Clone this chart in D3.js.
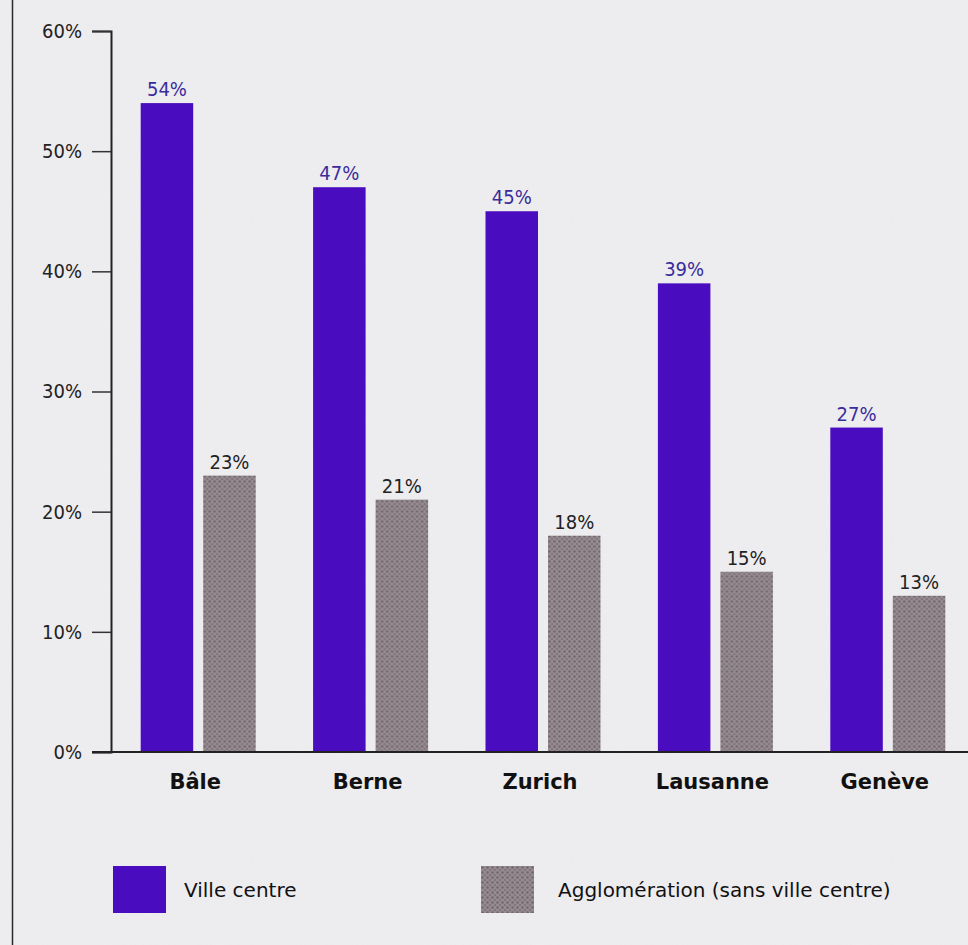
<!DOCTYPE html>
<html>
<head>
<meta charset="utf-8">
<script src="https://cdn.jsdelivr.net/npm/d3@7"></script>
<style>
  html, body { margin: 0; padding: 0; background: #eeedf0; }
  svg { display: block; }
  text { font-family: "DejaVu Sans Condensed", "DejaVu Sans", sans-serif; }
</style>
</head>
<body>
<div id="chart"></div>
<script>
const cities = ["Bâle", "Berne", "Zurich", "Lausanne", "Genève"];
const series = ["Ville centre", "Agglomération (sans ville centre)"];
const villeCentre = [54, 47, 45, 39, 27];
const agglomeration = [23, 21, 18, 15, 13];
const yTicks = [0, 10, 20, 30, 40, 50, 60];

const width = 968, height = 945;
const margin = { top: 31, right: 0, bottom: 193, left: 111 };

const svg = d3.select("#chart")
  .append("svg")
  .attr("width", width)
  .attr("height", height);

const defs = svg.append("defs");

// scan-like paper texture
const noise = defs.append("filter").attr("id", "paper")
  .attr("x", 0).attr("y", 0).attr("width", "100%").attr("height", "100%");
noise.append("feTurbulence").attr("type", "fractalNoise")
  .attr("baseFrequency", 0.8).attr("numOctaves", 2).attr("seed", 3);
noise.append("feColorMatrix").attr("type", "matrix")
  .attr("values", "0 0 0 0 0.4  0 0 0 0 0.4  0 0 0 0 0.42  0 0 0 0.09 0");

// dotted grey fill
const dots = defs.append("pattern").attr("id", "dots")
  .attr("width", 5).attr("height", 5).attr("patternUnits", "userSpaceOnUse");
dots.append("rect").attr("width", 5).attr("height", 5).attr("fill", "#978b92");
dots.append("circle").attr("cx", 1.5).attr("cy", 1.5).attr("r", 1.3).attr("fill", "#74686f");
dots.append("circle").attr("cx", 4).attr("cy", 4).attr("r", 1.1).attr("fill", "#7e7279");

svg.append("rect").attr("width", width).attr("height", height).attr("fill", "#f0eff2");
svg.append("rect").attr("width", width).attr("height", height).attr("filter", "url(#paper)");

// left frame rule
svg.append("line")
  .attr("x1", 12.5).attr("x2", 12.5).attr("y1", 0).attr("y2", height)
  .attr("stroke", "#2a2a2a").attr("stroke-width", 1.5);

const y = d3.scaleLinear().domain([0, 60]).range([752, margin.top]);

const x = d3.scaleBand().domain(cities).range([112, 974]).padding(0);
const xInner = d3.scaleBand().domain(series).range([-57.5, 57.5]).paddingInner(0.16);

const colors = { "Ville centre": "#4a0cbf", "Agglomération (sans ville centre)": "url(#dots)" };
const labelColors = { "Ville centre": "#3a2c9a", "Agglomération (sans ville centre)": "#222" };

const rows = cities.map((c, i) => ({
  city: c,
  values: [
    { key: series[0], value: villeCentre[i] },
    { key: series[1], value: agglomeration[i] }
  ]
}));

// y axis
const yAxis = svg.append("g")
  .attr("transform", `translate(${margin.left},0)`)
  .call(d3.axisLeft(y).tickValues(yTicks).tickFormat(d => d + "%").tickSize(19).tickSizeOuter(19).tickPadding(10));
yAxis.select(".domain").attr("stroke", "#222").attr("stroke-width", 2);
yAxis.selectAll(".tick line").attr("stroke", "#333").attr("stroke-width", 1.5);
yAxis.selectAll(".tick text")
  .attr("fill", "#222").style("font-size", "20px");

// bars
const groups = svg.append("g").selectAll("g")
  .data(rows)
  .join("g")
  .attr("transform", d => `translate(${x(d.city) + x.bandwidth() / 2},0)`);

groups.selectAll("rect")
  .data(d => d.values)
  .join("rect")
  .attr("x", d => xInner(d.key))
  .attr("width", xInner.bandwidth())
  .attr("y", d => y(d.value))
  .attr("height", d => y(0) - y(d.value))
  .attr("fill", d => colors[d.key]);

groups.selectAll("text")
  .data(d => d.values)
  .join("text")
  .attr("x", d => xInner(d.key) + xInner.bandwidth() / 2)
  .attr("y", d => y(d.value) - 7)
  .attr("text-anchor", "middle")
  .attr("fill", d => labelColors[d.key])
  .style("font-size", "20px")
  .text(d => d.value + "%");

// x axis
const xAxis = svg.append("g")
  .attr("transform", `translate(0,${y(0)})`)
  .call(d3.axisBottom(x).tickSize(0).tickPadding(22));
xAxis.select(".domain").remove();
xAxis.selectAll(".tick text")
  .attr("fill", "#111")
  .style("font-family", "'DejaVu Sans', sans-serif")
  .style("font-size", "21px").style("font-weight", "bold")
  .attr("dx", -3);
svg.append("line")
  .attr("x1", 92).attr("x2", width).attr("y1", y(0)).attr("y2", y(0))
  .attr("stroke", "#222").attr("stroke-width", 2);

// legend
const legendX = [113, 481];
const legend = svg.append("g").selectAll("g")
  .data(series)
  .join("g")
  .attr("transform", (d, i) => `translate(${legendX[i]},866)`);
legend.append("rect")
  .attr("width", 53).attr("height", 47)
  .attr("fill", d => colors[d]);
legend.append("text")
  .attr("x", (d, i) => i === 0 ? 71 : 77)
  .attr("y", 31)
  .attr("fill", "#111")
  .style("font-family", "'DejaVu Sans', sans-serif")
  .style("font-size", "20px")
  .text(d => d);
</script>
</body>
</html>
